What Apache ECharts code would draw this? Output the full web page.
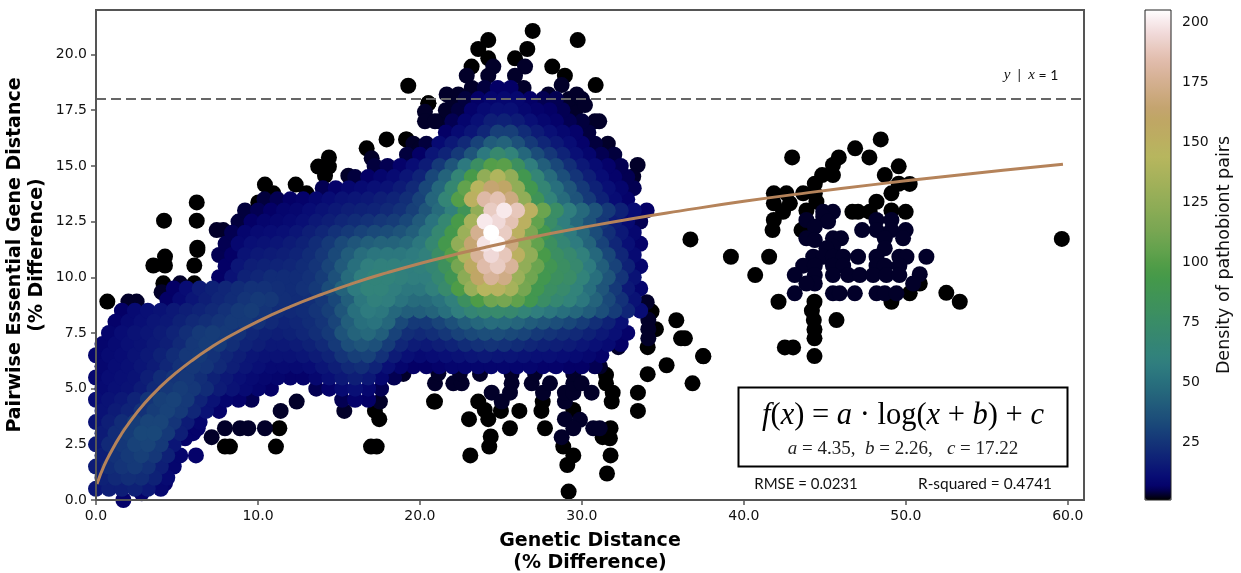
<!DOCTYPE html>
<html><head><meta charset="utf-8">
<style>html,body{margin:0;padding:0;background:#fff}#c{width:1241px;height:573px}</style>
<script src="https://cdn.jsdelivr.net/npm/echarts@6/dist/echarts.min.js"></script>
</head><body><div id="c"></div>
<script>
const xTicks=[0,10,20,30,40,50,60];
const yTicks=[0,2.5,5,7.5,10,12.5,15,17.5,20];
const cbTicks=[25,50,75,100,125,150,175,200];
const fitX=[0.06,0.5,1,1.5,2,3,4,5,6,7,8,10,12,14,16,18,20,22,24,27,30,33,36,40,44,48,52,56,59.7];
const fitY=[0.72,1.54,2.26,2.88,3.42,4.34,5.1,5.74,6.3,6.8,7.25,8.02,8.68,9.25,9.76,10.21,10.62,10.99,11.34,11.81,12.23,12.62,12.97,13.41,13.8,14.16,14.49,14.8,15.07];
const refX=[0,61];
const refY=[18,18];
const gistEarth=['#000000','#040068','#080d75','#0d1c76','#112a77','#153878','#194679','#1e527a','#225e7b','#26697c','#2a737e','#2f7d7f','#32837a','#358672','#388a6b','#3b8e63','#3e915b','#419553','#44994b','#4e9c47','#5da04b','#6ba44f','#79a652','#83a954','#8eac56','#98af58','#a3b15a','#adb45c','#b7b65e','#bab160','#bdab62','#bfa664','#c4a46f','#cba97e','#d3af8e','#dab59e','#e2beae','#e9cbc2','#f0d8d7','#f8e9eb','#ffffff'];

// Dense body: each row is a y level, its first x, and densities read at 0.8 x steps
const rowStep=0.8;
const rowY=[0.5,1,1.5,2,2.5,3,3.5,4,4.5,4.5,5,5,5.5,6,6.5,7,7.5,8,8.5,9,9.5,10,10.5,11,11.5,12,12.5,13,13.5,14,14.5,15,15.5,16,16.5,17,17.5,18,18.5];
const rowStart=[0,0.4,0,0.4,0,0.4,0,0.4,0,15.2,0.4,13.6,0,0.4,0,0.4,0.8,1.2,1.6,4.4,4.8,7.6,8,7.6,8,8.4,8.8,9.2,10.4,14,16,17.2,19.2,19.6,21.6,21.2,21.6,22,23.2];
const rowDensity=[
[14,17,17,18,15,9],
[18,21,23,22,18,10],
[16,22,25,27,24,17,8],
[17,24,27,29,26,18,8],
[15,21,26,30,31,27,14],
[16,22,28,32,32,27,17,7],
[13,17,22,28,31,31,25,16,8],
[13,16,19,24,28,30,27,20,13,7],
[11,13,15,19,25,29,30,27,19,13,8,7,5],
[5,7,6],
[10,12,13,16,21,26,28,26,22,16,13,10,8,6],
[5,7,10,12,9,5],
[9,11,12,13,17,22,25,26,23,18,15,12,10,9,8,7,7,9,12,15,17,15,9,5],
[9,11,12,14,16,20,24,26,25,21,17,14,12,10,10,10,11,14,17,21,23,19,12,8,6,6,7,8,8,8,8,8,8,8,7,7,6,6,5],
[8,10,11,13,15,18,22,26,27,24,20,17,14,13,13,13,14,16,19,25,29,30,24,16,12,10,11,12,13,14,15,14,14,13,12,12,11,10,9,7],
[8,10,12,13,15,17,21,26,28,27,23,19,17,15,15,16,18,21,27,35,38,36,28,20,16,15,17,19,22,24,25,24,22,20,18,17,16,14,12,10,6],
[8,11,13,14,16,19,23,27,28,27,24,20,18,17,18,20,23,27,37,44,47,42,30,23,21,23,26,30,33,35,35,33,31,27,25,23,21,18,15,12,7],
[7,10,12,14,15,18,21,23,25,27,27,24,21,19,20,22,25,31,42,50,52,46,33,27,27,31,36,42,46,49,48,45,41,38,35,32,28,23,18,12],
[6,10,12,13,15,17,19,21,24,27,28,25,22,21,22,25,29,38,50,56,54,46,42,42,44,50,58,66,70,72,70,64,58,54,50,46,41,35,28,20,11],
[6,10,14,17,20,22,25,27,26,23,22,23,26,32,42,54,60,58,52,48,48,52,60,80,98,110,112,104,90,76,68,62,54,44,33,24,13],
[6,11,16,18,20,22,24,24,23,22,24,27,34,44,56,62,62,58,54,54,60,72,98,128,145,148,135,112,90,78,72,62,50,38,27,15,8],
[6,13,18,20,22,22,22,24,28,36,48,58,63,62,60,58,58,68,88,122,160,178,172,130,110,90,80,75,62,50,38,25,13],
[6,14,17,18,19,20,22,25,31,40,50,58,60,60,58,60,66,82,112,155,183,190,178,125,108,88,78,70,56,42,30,18,8],
[5,6,13,15,16,17,19,22,26,33,41,49,53,54,54,56,60,76,100,140,178,195,188,150,125,95,78,70,60,46,32,20,10],
[5,9,12,13,14,16,18,22,27,33,38,42,44,44,47,54,68,92,125,165,198,204,170,125,105,80,66,56,44,30,20,12,7],
[5,8,10,11,12,14,17,20,24,27,30,33,34,37,42,52,68,92,130,175,205,190,150,115,90,68,56,46,34,23,15,9],
[4,6,8,9,10,12,15,17,20,22,24,26,28,32,40,52,68,95,135,200,195,186,150,105,75,58,47,37,26,16,10,5],
[4,5,6,8,9,11,13,15,17,18,19,21,24,29,38,48,60,85,125,190,200,188,150,108,76,58,47,37,27,18,11,6],
[4,5,6,7,9,11,13,14,15,17,19,23,30,45,65,100,150,182,186,170,125,85,62,48,37,27,18,11,7],
[5,7,9,10,12,13,16,21,32,46,68,105,145,165,160,125,90,66,50,38,27,18,12,8,5],
[4,6,8,10,14,19,32,44,65,95,125,140,125,90,65,48,35,25,17,11,7,5],
[4,5,7,11,16,27,38,55,78,100,102,80,58,42,32,23,15,10,7,5],
[4,6,14,19,27,38,55,70,62,46,34,26,19,12,8,5,4],
[3,4,10,15,21,30,41,44,36,27,20,15,11,7,4,3],
[6,10,14,20,29,29,22,16,12,9,7,4],
[3,5,8,12,17,18,16,12,9,7,5,4,3],
[3,4,7,10,12,12,9,7,6,5,3],
[3,4,6,8,9,9,6,5,5,3,3],
[3,4,6,6,3]
];

// Sparse fringe read one by one: near-black dots, density 1
const blackX=[50.86,50.24,49.11,52.5,53.33,42.14,44.36,44.2,44.32,44.36,44.36,45.72,42.53,43.04,44.36,39.2,41.56,40.7,59.63,37.48,36.7,42.98,48.45,46.87,47.75,45.86,45.5,49.56,48.7,45.5,44.83,44.38,49.56,50.24,41.85,42.63,43.66,44.38,49.11,41.85,42.84,44.48,48.19,42.42,43.86,46.7,47.05,47.77,49.11,49.99,41.85,41.77,43.56,20.93,23.6,24,23.03,24.22,25,26.14,25.56,24.37,24.28,23.11,27.5,27.58,27.72,29.47,28.85,29.47,29.1,29.18,31.77,31.28,31.73,31.77,31.55,31.49,31.49,31.9,31.84,33.46,33.46,34.06,34.06,34.57,34.3,35.23,35.83,36.12,36.36,37.5,36.83,0.7,4.26,3.54,4.26,6.07,6.26,4.16,6.07,11.32,11.11,7.96,8.27,16.98,17.33,17.49,17.22,20.87,19.28,20.52,17.94,19.18,16.71,14.38,13.72,14.38,14.14,10.43,10.95,12.33,13,10.02,6.22,4.2,6.22,6.26,26.96,24.22,29.74,23.6,26.63,24.22,25.87,28.17,23.19,28.95,30.85,20.52,19.14];
const blackY=[9.72,9.28,8.9,9.3,8.9,8.9,8.9,8.5,8.08,7.66,7.26,8.08,6.85,6.85,6.46,10.92,10.92,10.1,11.72,6.46,11.7,15.38,16.19,15.79,15.38,15.38,15.04,14.98,14.59,14.59,14.59,14.2,14.2,14.19,13.77,13.77,13.77,13.77,13.77,13.32,13.32,13.39,13.39,12.94,13,12.94,12.94,12.94,13,12.94,12.57,12.12,12.12,4.42,4.42,4.04,3.63,3.63,4,4,3.22,2.85,2.4,2,4,4.42,3.22,4.04,2.4,2,1.57,0.38,3.22,2.82,2.77,2,1.19,5.62,5.24,4.82,4.42,4.82,4,5.65,6.86,7.67,8.46,6.05,8.07,7.26,7.26,6.45,5.24,8.91,10.93,10.53,10.53,10.53,11.23,9.73,9.73,3.22,2.4,2.4,2.4,2.4,2.4,3.63,4,4.42,18.6,17.81,16.19,16.19,15.79,15.38,14.97,14.97,14.56,14.16,13.77,14.16,13.77,13.36,13.36,12.54,12.54,11.33,21.06,20.65,20.65,20.25,20.25,19.83,19.83,19.46,19.46,19.05,18.63,17.81,16.19];

// Sparse fringe: dark navy dots, density about 3
const navyX=[44.9,45.5,43.86,44.9,45.2,44.38,43.86,44.38,45.5,46,48.19,49.11,48.19,49.11,49.99,47.3,48.7,49.83,45.5,45.1,48.7,44.28,44.9,45.5,46.13,47.05,48.19,49.6,50.04,51.27,43.66,44.38,45.5,46.13,48.19,48.7,49.6,43.14,44.38,45.5,46.44,47.16,47.98,48.8,49.6,50.86,50.45,44.38,43.86,43.14,45.5,45.92,46.85,48.19,48.7,49.42,20.93,22.06,22.58,21.14,22.47,23.71,24.43,25.05,25.56,25.66,25.66,26.9,27.6,28.03,27.1,28.24,28.95,28.95,29.47,29.47,29.47,29.98,30.6,31.11,28.95,29.88,29.47,30.7,31.1,28.75,34,34.1,34.1,34.1,32.25,18.98,2,2.51,5.19,4.05,12.39,11.4,7.14,7.96,8.89,9.4,10.43,15.33,17.53,17.02,15.58,12.04,10.64,7.86,7.45,26.49,24.53,22.89,24.22,25.87,28.75,21.65,22.37,27.93,29.68,20.31,20.31,20.93,31.07,30.19,33.44,33.17,20];
const navyY=[12.94,12.94,12.57,12.72,12.5,12.27,11.75,11.67,11.75,11.75,12.57,12.57,12.12,12.12,12.12,12.12,11.75,11.75,11.37,11.3,11.3,10.92,10.92,10.92,10.92,10.92,10.92,10.92,10.92,10.92,10.52,10.52,10.52,10.52,10.52,10.52,10.52,10.1,10.1,10.1,10.1,10.1,10.1,10.1,10.1,10.14,9.72,9.72,9.72,9.28,9.28,9.28,9.28,9.28,9.28,9.28,5.24,5.24,5.24,5.69,5.69,5.66,4.82,4.42,4.82,5.24,5.66,5.24,4.82,5.24,5.69,6.07,4.42,4.82,4.82,5.24,5.66,5.24,4.82,6,3.63,3.6,3.22,3.22,3.22,2.82,8.88,8.09,7.67,7.26,6.86,5.66,8.91,8.91,9.73,9.33,4.42,4,2.82,3.22,3.22,3.22,3.22,4,4.42,15.34,14.56,13.36,13.32,12.12,12.12,19.46,19.46,19.05,19.05,19.05,18.63,18.21,18.21,18.21,18.21,17.43,17,17,17,17.73,15.04,14.52,15.79];
// Bottom-left navy stragglers, density about 7
const edgeX=[1.69,2.82,4.26,5.5,6.17,6.28];
const edgeY=[0,0.3,0.75,2.77,2,3.22];

const points=[];
rowY.forEach((y,r)=>rowDensity[r].forEach((d,i)=>points.push([+(rowStart[r]+i*rowStep).toFixed(2),y,d])));
blackX.forEach((x,i)=>points.push([x,blackY[i],1]));
navyX.forEach((x,i)=>points.push([x,navyY[i],3]));
edgeX.forEach((x,i)=>points.push([x,edgeY[i],7]));
points.sort((a,b)=>a[2]-b[2]);

const font='"DejaVu Sans"';
const chart=echarts.init(document.getElementById('c'),null,{renderer:'canvas'});
const pair=(xs,ys)=>xs.map((x,i)=>[x,ys[i]]);
chart.setOption({
 animation:false,
 backgroundColor:'#fff',
 grid:[
  {left:96,top:10,width:988,height:490,outerBoundsMode:'none',show:true,borderColor:'#555',borderWidth:2,backgroundColor:'transparent',z:5},
  {left:1145,top:10,width:26,height:490,outerBoundsMode:'none',show:false}
 ],
 xAxis:[
  {type:'value',gridIndex:0,min:0,max:61,
   name:'Genetic Distance\n(% Difference)',nameLocation:'middle',nameGap:30,
   nameTextStyle:{fontFamily:font,fontWeight:'bold',fontSize:19,color:'#000',lineHeight:22,verticalAlign:'top'},
   axisLine:{show:false},splitLine:{show:false},
   axisTick:{show:true,length:5,customValues:xTicks,lineStyle:{color:'#555',width:1.5}},
   axisLabel:{customValues:xTicks,formatter:v=>v.toFixed(1),fontFamily:font,fontSize:14,color:'#111',margin:9}},
  {type:'value',gridIndex:1,min:0,max:1,show:false}
 ],
 yAxis:[
  {type:'value',gridIndex:0,min:0,max:22,
   axisLine:{show:false},splitLine:{show:false},
   axisTick:{show:true,length:5,customValues:yTicks,lineStyle:{color:'#555',width:1.5}},
   axisLabel:{customValues:yTicks,formatter:v=>v.toFixed(1),fontFamily:font,fontSize:14,color:'#111',margin:9,verticalAlign:'middle',verticalAlignMinLabel:'middle',verticalAlignMaxLabel:'middle',padding:[3,0,0,0]}},
  {type:'value',gridIndex:1,min:1,max:205,position:'right',
   name:'Density of pathobiont pairs',nameLocation:'middle',nameRotate:90,nameGap:44,
   nameTextStyle:{fontFamily:font,fontSize:17.5,color:'#111'},
   axisLine:{show:false},splitLine:{show:false},
   axisTick:{show:true,length:4,customValues:cbTicks,lineStyle:{color:'#222',width:1}},
   axisLabel:{customValues:cbTicks,fontFamily:font,fontSize:14,color:'#111',margin:11}}
 ],
 visualMap:[{type:'continuous',seriesIndex:0,dimension:2,min:1,max:205,left:1145,top:10,padding:0,
   itemWidth:26,itemHeight:490,calculable:false,realtime:false,hoverLink:false,text:null,
   inRange:{color:gistEarth},borderWidth:0}],
 series:[
  {type:'scatter',xAxisIndex:0,yAxisIndex:0,data:points,symbol:'circle',symbolSize:16,progressive:0,large:false,clip:true,z:2,silent:true,itemStyle:{opacity:1}},
  {type:'line',xAxisIndex:0,yAxisIndex:0,data:pair(fitX,fitY),showSymbol:false,smooth:true,
   lineStyle:{color:'#B5835A',width:3},z:4,silent:true},
  {type:'line',xAxisIndex:0,yAxisIndex:0,data:pair(refX,refY),showSymbol:false,
   lineStyle:{color:'#666',width:2,type:[10,5]},z:3,silent:true}
 ],
 graphic:{elements:[
  {type:'text',x:15,y:255,rotation:Math.PI/2,z:20,style:{text:'Pairwise Essential Gene Distance',font:'bold 19px "DejaVu Sans"',fill:'#000',textAlign:'center',textVerticalAlign:'middle'}},
  {type:'text',x:37,y:255,rotation:Math.PI/2,z:20,style:{text:'(% Difference)',font:'bold 19px "DejaVu Sans"',fill:'#000',textAlign:'center',textVerticalAlign:'middle'}},
  {type:'rect',z:20,shape:{x:1145,y:10,width:26,height:490},style:{fill:'transparent',stroke:'#222',lineWidth:1}},
  {type:'text',x:1031,y:75,z:20,style:{text:'{i|y}{n|  |  }{i|x}{n| = 1}',textAlign:'center',textVerticalAlign:'middle',
    rich:{i:{font:'italic 15px "Liberation Serif"',fill:'#111'},n:{font:'14px "Lato"',fill:'#111'}}}},
  {type:'rect',z:20,shape:{x:738.5,y:387.5,width:329,height:79},style:{fill:'#fff',stroke:'#000',lineWidth:2}},
  {type:'text',x:903,y:416,z:21,style:{text:'{i|f}{n|(}{i|x}{n|) = }{i|a}{n| · log(}{i|x}{n| + }{i|b}{n|) + }{i|c}',textAlign:'center',textVerticalAlign:'middle',
    rich:{i:{font:'italic 30.5px "Liberation Serif"',fill:'#000'},n:{font:'30.5px "Liberation Serif"',fill:'#000'}}}},
  {type:'text',x:903,y:449,z:21,style:{text:'{i|a}{n| = 4.35,  }{i|b}{n| = 2.26,   }{i|c}{n| = 17.22}',textAlign:'center',textVerticalAlign:'middle',
    rich:{i:{font:'italic 19px "Liberation Serif"',fill:'#222'},n:{font:'19px "Liberation Serif"',fill:'#222'}}}},
  {type:'text',x:806,y:484,z:21,style:{text:'RMSE = 0.0231',font:'15px "Lato"',fill:'#111',textAlign:'center',textVerticalAlign:'middle'}},
  {type:'text',x:985,y:484,z:21,style:{text:'R-squared = 0.4741',font:'15.4px "Lato"',fill:'#111',textAlign:'center',textVerticalAlign:'middle'}}
 ]}
});
</script></body></html>
